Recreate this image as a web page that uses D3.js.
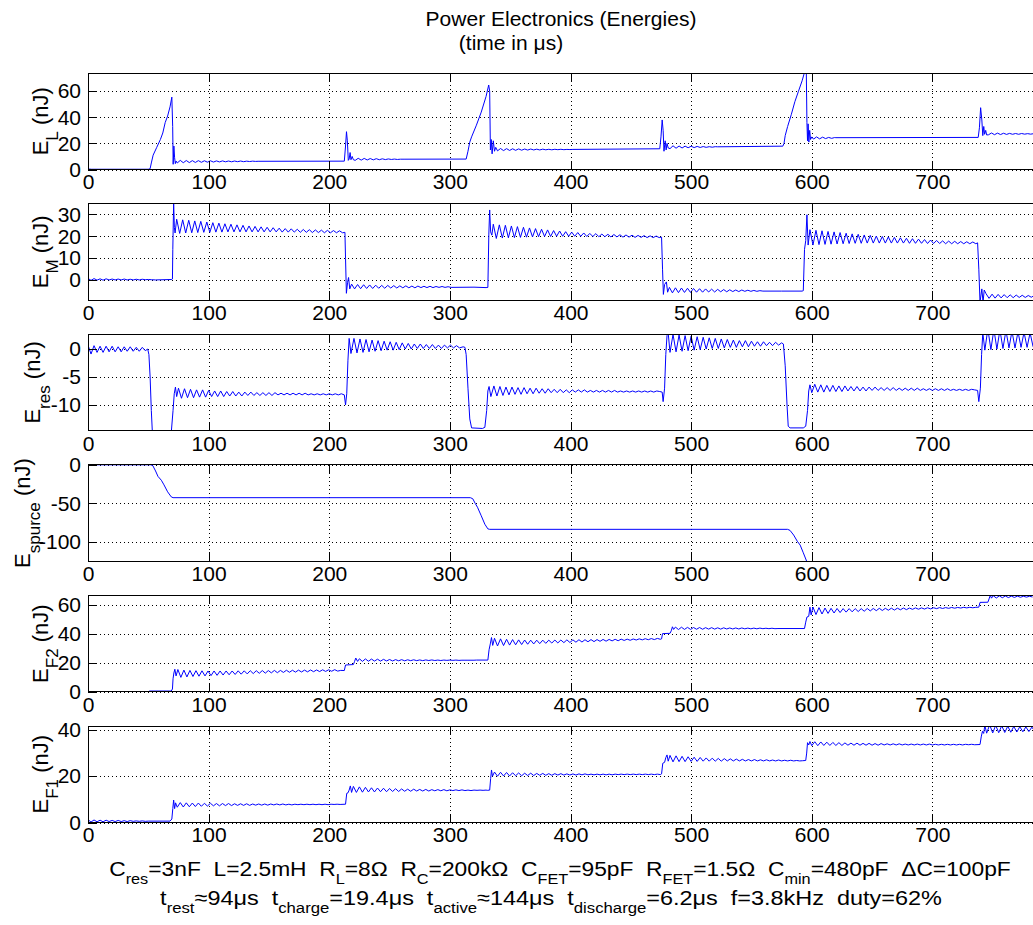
<!DOCTYPE html>
<html>
<head>
<meta charset="utf-8">
<script src="https://cdn.jsdelivr.net/npm/d3@7"></script>
<style>
  body { margin: 0; background: #fff; }
  svg { display: block; font-family: "Liberation Sans", Arial, sans-serif; }
  .grid line { stroke: #000; stroke-width: 1; stroke-dasharray: 1,3; shape-rendering: crispEdges; }
  .tick line { stroke: #000; shape-rendering: crispEdges; }
  .tick text { font-size: 21px; fill: #000; }
  .box { fill: none; stroke: #000; shape-rendering: crispEdges; }
  .trace { fill: none; stroke: #0000ff; stroke-width: 1; }
</style>
</head>
<body>
<svg id="chart" width="1033" height="925"></svg>
<script>
// sample spacing of the ripple segments (µs)
var rippleStep = 2.5;
function ripple(t0, vals) {
  return vals.map((v, i) => [t0 + i * rippleStep, v]);
}

var xTicks = [0, 100, 200, 300, 400, 500, 600, 700];
var panelNames = ['L', 'M', 'res', 'spurce', 'F2', 'F1'];
var yDomains = [[0, 74], [-9.1, 34.9], [-14.6, 2.65], [-125, 0], [0, 66.4], [0, 41.7]];
var yTicks = [[0, 20, 40, 60], [0, 10, 20, 30], [-10, -5, 0], [-100, -50, 0], [0, 20, 40, 60], [0, 20, 40]];

// E_L (nJ) vs time (µs)
var energyL = [
  [0, 0.4], [3, 0.2], [50, 0.2], [51.5, 0.6], [52.5, 5], [54, 11], [57, 17], [60, 23], [62, 28],
  [64, 36], [66, 41], [68, 48], [69.5, 55.5], [70.2, 33], [70.6, 4], [71.2, 18], [71.8, 9],
  [72.4, 4.5], [73, 6.5],
  ...ripple(74, [5.0, 7.0, 5.2, 6.9, 5.3, 6.8, 5.4, 6.8, 5.5, 6.7, 5.6, 6.7, 5.7, 6.6, 5.8, 6.6, 5.9, 6.5, 5.9, 6.5, 6.0, 6.5, 6.0, 6.4, 6.1, 6.4, 6.2]),
  [141, 6.3], [212.5, 6.4], [213.5, 18], [214.3, 29], [215, 22], [215.8, 7], [216.5, 8],
  [217.3, 13], [218, 7.5], [219, 10], [220, 7.5],
  ...ripple(221.5, [7.0, 8.6, 7.2, 8.5, 7.3, 8.4, 7.4, 8.3, 7.5, 8.2, 7.6, 8.1, 7.7, 8.0, 7.7, 7.9]),
  [262, 7.9], [313.5, 8.0], [315, 14], [316.5, 21], [318, 25], [322, 34], [326, 44], [330, 56],
  [332.2, 64.8], [333, 60], [333.6, 15], [334.3, 23], [335, 12], [336, 22], [337, 14], [338, 17],
  ...ripple(339.5, [14.3, 16.1, 14.5, 16.0, 14.6, 15.9, 14.7, 15.8, 14.8, 15.7, 14.9, 15.7, 15.0, 15.6, 15.0, 15.6, 15.1, 15.5, 15.1, 15.5, 15.2, 15.5, 15.2, 15.4, 15.3]),
  [402, 15.4], [474, 15.9], [475, 25], [476, 38], [476.8, 30], [477.5, 14], [478.5, 22],
  [479.3, 15], [480, 20], [481, 16.5],
  ...ripple(482.5, [16.0, 18.2, 16.3, 18.0, 16.5, 17.9, 16.7, 17.8, 16.8, 17.7, 16.9, 17.6, 17.0, 17.5, 17.1, 17.5]),
  [522, 17.4], [576, 17.9], [577, 20], [578, 26], [580, 33], [583, 42], [586, 52], [589, 60],
  [592, 68], [594, 74.5], [595, 76], [595.5, 74], [596, 36], [596.5, 22], [597, 35], [597.6, 21],
  [598.3, 30], [599, 23], [600, 25],
  ...ripple(601.5, [23.3, 25.0, 23.5, 24.8, 23.7, 24.6, 23.9, 24.5]),
  [620, 24.4], [738, 24.6], [739, 32], [740, 47.4], [741, 38], [741.8, 26], [742.6, 33],
  [743.3, 27], [744.2, 30], [745, 26.5],
  ...ripple(746.5, [26.6, 28.0, 26.7, 27.9, 26.8, 27.8, 26.9, 27.7, 27.0, 27.6, 27.0, 27.6, 27.1, 27.5, 27.1, 27.5])
];

// E_M (nJ)
var energyM = [
  ...ripple(0, [0.8, -0.1, 0.7, 0.0, 0.6, 0.0, 0.6, 0.1, 0.5, 0.1, 0.5, 0.1, 0.5, 0.1, 0.4, 0.1, 0.4, 0.1, 0.4, 0.2, 0.3, 0.2]),
  [56, 0.1], [69.5, 0.3], [70, 0.5], [70.3, 14], [71, 35.5], [71.6, 24], [72.2, 21.5],
  ...ripple(73.5, [27.8, 21.3, 27.5, 21.5, 27.3, 21.6, 27.0, 21.7, 26.8, 21.8, 26.5, 21.8, 26.2, 21.9,
    26.0, 21.9, 25.7, 22.0, 25.5, 22.0, 25.2, 22.0, 25.0, 22.0, 24.7, 22.0, 24.5, 22.0, 24.3, 22.0,
    24.1, 22.0, 23.9, 22.0, 23.7, 21.9, 23.5, 21.9, 23.4, 21.9, 23.2, 21.8, 23.1, 21.8, 23.0, 21.7,
    22.9, 21.7, 22.8, 21.6, 22.7, 21.6, 22.6, 21.6, 22.5, 21.6]),
  [213, 21.8], [213.5, 10], [214.2, -6], [215.2, -1], [216, 1.2], [217, -4],
  ...ripple(218.5, [-1.8, -4.0, -2.0, -3.9, -2.1, -3.8, -2.2, -3.8, -2.3, -3.7, -2.4, -3.7, -2.4, -3.6,
    -2.5, -3.6, -2.6, -3.5, -2.6, -3.5, -2.7, -3.5, -2.7, -3.4, -2.8, -3.4, -2.8, -3.4, -2.9, -3.3,
    -2.9, -3.3, -3.0, -3.3]),
  [320, -3.2], [330, -3.4], [331.5, -3.3], [332.3, 21], [333, 32], [333.8, 22], [334.8, 20.5],
  ...ripple(336, [25.5, 19.0, 25.2, 19.2, 25.0, 19.3, 24.7, 19.4, 24.4, 19.5, 24.1, 19.6, 23.8, 19.7,
    23.5, 19.8, 23.2, 19.9, 22.9, 19.9, 22.6, 20.0, 22.4, 20.0, 22.1, 20.0, 21.9, 20.0, 21.7, 20.0,
    21.5, 19.9, 21.3, 19.9, 21.2, 19.8, 21.0, 19.8, 20.9, 19.7, 20.8, 19.7, 20.7, 19.6, 20.6, 19.6,
    20.5, 19.5, 20.4, 19.5, 20.3, 19.4, 20.2, 19.4, 20.1, 19.4]),
  [475.5, 19.6], [476.3, 5], [477, -6.5], [478, -2], [479.5, -0.8], [480.5, -5.5],
  ...ripple(482, [-3.3, -5.8, -3.5, -5.7, -3.6, -5.6, -3.7, -5.6, -3.8, -5.5, -3.9, -5.5, -4.0, -5.4,
    -4.1, -5.4, -4.2, -5.3, -4.3, -5.3, -4.4, -5.2, -4.5, -5.2, -4.5, -5.1, -4.6, -5.1, -4.7, -5.1,
    -4.8, -5.0]),
  [575, -5.0], [592, -5.0], [593, -4.8], [594, 14], [595, 18], [596, 29.8], [597, 16],
  ...ripple(598.5, [23.0, 16.0, 22.7, 16.2, 22.5, 16.3, 22.2, 16.4, 22.0, 16.5, 21.7, 16.6, 21.4, 16.7,
    21.1, 16.8, 20.9, 16.8, 20.6, 16.9, 20.4, 16.9, 20.1, 16.9, 19.9, 16.9, 19.7, 16.9, 19.5, 16.9,
    19.3, 16.9, 19.1, 16.8, 18.9, 16.8, 18.7, 16.8, 18.5, 16.7, 18.3, 16.7, 18.1, 16.7, 17.9, 16.6,
    17.8, 16.6, 17.7, 16.6, 17.6, 16.6, 17.5, 16.6, 17.4, 16.6]),
  [737.5, 17.0], [738.5, 5], [739.5, -10], [741, -4], [742, -10], [743, -4.5],
  ...ripple(744.5, [-6.2, -8.3, -6.4, -8.2, -6.5, -8.1, -6.6, -8.0, -6.7, -8.0, -6.8, -7.9, -6.9, -7.9,
    -7.0, -7.8, -7.0])
];

// E_res (nJ)
var energyRes = [
  ...ripple(0, [0.7, -0.9, 0.6, -0.6, 0.5, -0.6, 0.5, -0.5, 0.5, -0.5, 0.4, -0.5, 0.4, -0.4, 0.4, -0.4,
    0.3, -0.4, 0.3, -0.3]),
  [49.5, 0.0], [50.5, -1], [51.5, -5], [52.5, -11], [53.5, -15.5], [56, -18], [66, -18], [69, -15],
  [70.5, -11], [71.5, -8], [72.5, -6.8], [73.5, -8.5],
  ...ripple(75, [-7.0, -8.8, -7.1, -8.7, -7.2, -8.7, -7.3, -8.6, -7.3, -8.6, -7.4, -8.5, -7.5, -8.5,
    -7.5, -8.5, -7.6, -8.4, -7.6, -8.4, -7.7, -8.4, -7.7, -8.3, -7.7, -8.3, -7.8, -8.3, -7.8, -8.3,
    -7.8, -8.3, -7.8, -8.2, -7.9, -8.2, -7.9, -8.2, -7.9, -8.2, -7.9, -8.2, -7.9, -8.2, -8.0, -8.2,
    -8.0, -8.2, -8.0, -8.2, -8.0, -8.2, -8.0, -8.2]),
  [210, -8.0], [212.5, -8.2], [213.5, -10], [214.5, -8], [215.5, -2], [216.5, 1.9],
  ...ripple(218, [-0.8, 1.9, -0.7, 1.8, -0.6, 1.7, -0.5, 1.6, -0.4, 1.5, -0.3, 1.4, -0.2, 1.3, -0.2, 1.2,
    -0.1, 1.1, 0.0, 1.0, 0.0, 0.9, 0.1, 0.9, 0.1, 0.8, 0.1, 0.8, 0.1, 0.7, 0.1, 0.7, 0.2, 0.7, 0.2, 0.6, 0.2]),
  [311, 0.4], [312.5, 0.3], [313.5, -1], [315, -7], [316.5, -12.5], [318, -14.1], [327, -14.2],
  [329, -14.0], [330.5, -11], [331.5, -7.5], [332.5, -6.7],
  ...ripple(334, [-8.5, -6.6, -8.4, -6.7, -8.3, -6.8, -8.2, -6.8, -8.1, -6.9, -8.1, -6.9, -8.0, -7.0,
    -8.0, -7.0, -7.9, -7.1, -7.9, -7.1, -7.8, -7.2, -7.8, -7.2, -7.8, -7.3, -7.8, -7.3, -7.7, -7.3,
    -7.7, -7.3, -7.7, -7.4, -7.7, -7.4, -7.7, -7.4, -7.7, -7.4, -7.7, -7.4, -7.7, -7.5, -7.7, -7.5,
    -7.7, -7.5, -7.7, -7.5, -7.7, -7.5, -7.7, -7.5, -7.7, -7.5]),
  [474, -7.6], [476, -7.7], [476.8, -9.4], [478, -7], [479, -1], [480, 2.4], [481, 2.8],
  ...ripple(482.5, [-0.6, 2.6, -0.5, 2.5, -0.4, 2.4, -0.3, 2.3, -0.2, 2.2, -0.1, 2.1, 0.0, 2.0, 0.1, 1.9,
    0.1, 1.8, 0.2, 1.7, 0.3, 1.6, 0.3, 1.5, 0.4, 1.5, 0.4, 1.4, 0.5, 1.3, 0.5, 1.3, 0.6, 1.2, 0.6, 1.2,
    0.7, 1.1]),
  [576.5, 0.9], [578, -3], [579.5, -10], [580.5, -13.8], [582, -14.1], [593, -14.1], [595, -13.8],
  [596.5, -11], [597.5, -7.5], [598.5, -6.4],
  ...ripple(600, [-7.8, -6.3, -7.7, -6.4, -7.7, -6.5, -7.6, -6.5, -7.6, -6.6, -7.6, -6.6, -7.5, -6.7,
    -7.5, -6.7, -7.5, -6.8, -7.5, -6.8, -7.4, -6.8, -7.4, -6.9, -7.4, -6.9, -7.4, -6.9, -7.4, -7.0,
    -7.4, -7.0, -7.4, -7.0, -7.4, -7.0, -7.4, -7.1, -7.4, -7.1, -7.4, -7.1, -7.4, -7.1, -7.4, -7.1,
    -7.4, -7.2, -7.4, -7.2, -7.4, -7.2, -7.4, -7.2]),
  [735, -7.3], [737.5, -7.4], [738.5, -9.4], [739.8, -7], [740.8, -1], [741.8, 2.9],
  ...ripple(743.5, [-0.2, 3.6, -0.1, 3.5, 0.0, 3.4, 0.1, 3.3, 0.2, 3.2, 0.2, 3.1, 0.3, 3.0, 0.3, 2.9, 0.4])
];

// E_source (nJ)
var energySource = [
  [0, 0], [52, 0], [53.7, -1], [56, -8], [58, -15], [60.8, -20], [63, -26], [66, -35], [69, -41.5],
  [70.5, -42.6], [317, -42.6], [319, -44], [321, -50], [322.9, -55], [326, -66], [329, -77],
  [331.5, -83], [333, -83.6], [580, -83.6], [582, -85], [585, -91], [588, -99], [590.4, -104],
  [593, -114], [595.8, -125], [598, -133], [600, -140]
];

// E_F2 (nJ)
var energyF2 = [
  [0, 0.2], [50, 0.2], [51, 0.6], [69, 0.6], [70, 2], [70.5, 9], [71.2, 13], [72, 15.6], [73, 11],
  ...ripple(74.5, [15.4, 10.0, 15.0, 10.3, 14.8, 10.6, 14.6, 10.8, 14.5, 11.0, 14.4, 11.2, 14.4, 11.4,
    14.4, 11.6, 14.4, 11.8, 14.4, 12.0, 14.5, 12.2, 14.5, 12.4, 14.6, 12.6, 14.6, 12.8, 14.7, 12.9,
    14.7, 13.1, 14.8, 13.2, 14.8, 13.4, 14.9, 13.5, 14.9, 13.6, 15.0, 13.7, 15.0, 13.8, 15.1, 13.9,
    15.1, 14.0, 15.2, 14.1, 15.2, 14.2, 15.3, 14.3]),
  [209.5, 14.8], [212.5, 14.7], [213.5, 18.5], [220, 18.8], [221, 21], [222, 23.3], [223.5, 21],
  ...ripple(225, [22.8, 21.0, 22.7, 21.1, 22.6, 21.2, 22.5, 21.2, 22.4, 21.3, 22.3, 21.3, 22.2, 21.4,
    22.2, 21.4, 22.1, 21.5, 22.1, 21.5, 22.0, 21.5, 22.0, 21.6, 22.0, 21.6, 21.9, 21.6, 21.9, 21.7,
    21.9, 21.7, 21.9, 21.7, 21.8, 21.8, 21.8, 21.8, 21.8]),
  [322, 21.9], [331.5, 21.9], [332.5, 29], [333.5, 33], [334.5, 37.4], [335.5, 32],
  ...ripple(337, [36.9, 31.6, 36.5, 31.9, 36.2, 32.2, 36.0, 32.4, 35.8, 32.6, 35.7, 32.8, 35.6, 33.0,
    35.6, 33.2, 35.6, 33.4, 35.6, 33.6, 35.7, 33.7, 35.7, 33.9, 35.8, 34.0, 35.8, 34.2, 35.9, 34.3,
    35.9, 34.5, 36.0, 34.6, 36.0, 34.8, 36.1, 34.9, 36.1, 35.1, 36.2, 35.2, 36.3, 35.4, 36.3, 35.5,
    36.4, 35.7, 36.5, 35.8, 36.6, 35.9, 36.7, 36.0, 36.8, 36.2]),
  [475.5, 36.5], [476.3, 40.1], [482.5, 40.3], [483.5, 42], [484.5, 44.8], [485.5, 43],
  ...ripple(487, [44.6, 42.9, 44.5, 43.0, 44.4, 43.0, 44.3, 43.1, 44.3, 43.1, 44.2, 43.2, 44.2, 43.2,
    44.1, 43.2, 44.1, 43.3, 44.0, 43.3, 44.0, 43.3, 44.0, 43.4, 43.9, 43.4, 43.9, 43.4, 43.9, 43.5,
    43.8, 43.5, 43.8, 43.5]),
  [572, 43.6], [594, 43.6], [595, 48], [596, 51.5], [597.5, 52], [598.5, 58.3], [599.5, 53],
  ...ripple(601, [58.4, 53.2, 58.0, 53.6, 57.7, 54.0, 57.5, 54.3, 57.4, 54.6, 57.3, 54.9, 57.3, 55.1,
    57.3, 55.3, 57.3, 55.5, 57.4, 55.7, 57.4, 55.9, 57.5, 56.0, 57.5, 56.2, 57.6, 56.3, 57.6, 56.5,
    57.7, 56.6, 57.7, 56.8, 57.8, 56.9, 57.8, 57.0, 57.9, 57.1, 57.9, 57.3, 58.0, 57.4, 58.0, 57.5,
    58.1, 57.6, 58.1, 57.7, 58.2, 57.8, 58.2, 57.9]),
  [736, 58.2], [738.5, 58.3], [739.5, 61.6], [746, 61.7], [747, 64], [748, 66.5], [749, 64.5],
  ...ripple(750.5, [66.2, 64.6, 66.1, 64.8, 66.0, 64.9, 65.9, 65.0, 65.9, 65.1, 65.8, 65.2, 65.8, 65.3])
];

// E_F1 (nJ)
var energyF1 = [
  ...ripple(0, [1.2, 0.2, 1.1, 0.3, 1.0, 0.3, 1.0, 0.4, 0.9, 0.4, 0.9, 0.4, 0.8, 0.4, 0.8, 0.5, 0.7, 0.5,
    0.7, 0.5]),
  [50, 0.6], [68, 0.6], [69.5, 1.5], [70.3, 6], [71, 9.7], [71.8, 6], [72.6, 8.5],
  ...ripple(74, [6.6, 8.6, 6.7, 8.5, 6.8, 8.4, 6.9, 8.4, 7.0, 8.3, 7.1, 8.3, 7.2, 8.2, 7.2, 8.2, 7.3, 8.2,
    7.3, 8.1, 7.4, 8.1, 7.4, 8.1, 7.4, 8.0, 7.5, 8.0, 7.5, 8.0, 7.5, 8.0, 7.6, 8.0, 7.6, 8.0, 7.6, 7.9,
    7.6, 7.9, 7.7, 7.9, 7.7, 7.9, 7.7, 7.9, 7.7, 7.9, 7.7, 7.9, 7.7, 7.9, 7.8, 7.9]),
  [209, 7.8], [213.5, 7.9], [214.5, 12.6], [215.5, 12.8], [216.5, 14], [217.5, 15.8], [218.5, 13],
  ...ripple(220, [15.6, 13.0, 15.4, 13.1, 15.2, 13.2, 15.0, 13.2, 14.9, 13.3, 14.8, 13.3, 14.7, 13.4,
    14.6, 13.4, 14.5, 13.5, 14.4, 13.5, 14.4, 13.6, 14.3, 13.6, 14.3, 13.6, 14.2, 13.7, 14.2, 13.7,
    14.2, 13.7, 14.1, 13.8, 14.1, 13.8, 14.1, 13.8, 14.0, 13.8, 14.0, 13.9, 14.0, 13.9, 14.0]),
  [331, 13.9], [333, 14], [333.8, 19], [334.5, 22.7], [335.3, 20],
  ...ripple(337, [21.8, 20.0, 21.7, 20.1, 21.6, 20.1, 21.5, 20.2, 21.4, 20.2, 21.3, 20.3, 21.3, 20.3,
    21.2, 20.4, 21.2, 20.4, 21.1, 20.4, 21.1, 20.5, 21.1, 20.5, 21.0, 20.5, 21.0, 20.5, 21.0, 20.6,
    21.0, 20.6, 20.9, 20.6, 20.9, 20.6, 20.9, 20.6, 20.9, 20.6, 20.9, 20.7, 20.9, 20.7, 20.9, 20.7,
    20.9, 20.7, 20.9, 20.7, 20.9, 20.7, 20.9, 20.7, 20.9, 20.7]),
  [475.5, 21], [476.5, 25.6], [478, 26], [479, 28], [480, 29.2], [481, 26.5],
  ...ripple(482.5, [29.0, 26.2, 28.8, 26.3, 28.6, 26.3, 28.4, 26.4, 28.2, 26.4, 28.1, 26.5, 27.9, 26.5,
    27.8, 26.5, 27.7, 26.5, 27.6, 26.6, 27.5, 26.6, 27.4, 26.6, 27.3, 26.6, 27.2, 26.6, 27.2, 26.6,
    27.1, 26.6, 27.1, 26.6, 27.0, 26.6, 27.0, 26.6, 26.9, 26.6, 26.9, 26.6, 26.8, 26.6]),
  [592.5, 26.7], [595, 26.8], [595.8, 30], [596.5, 34.5], [597.5, 33.5], [598.5, 35],
  ...ripple(600, [33.2, 34.9, 33.2, 34.8, 33.3, 34.7, 33.3, 34.6, 33.3, 34.5, 33.3, 34.4, 33.4, 34.3,
    33.4, 34.3, 33.4, 34.2, 33.4, 34.2, 33.4, 34.1, 33.4, 34.1, 33.5, 34.0, 33.5, 34.0, 33.5, 34.0,
    33.5, 33.9, 33.5, 33.9, 33.5, 33.9, 33.5, 33.9, 33.5, 33.9, 33.5, 33.8, 33.5, 33.8, 33.5, 33.8,
    33.5, 33.8, 33.5, 33.8, 33.5, 33.8, 33.6, 33.8]),
  [735, 33.6], [739.5, 33.7], [740.5, 37], [741.5, 39.4], [742.5, 38.5], [743.5, 42],
  ...ripple(745, [38.6, 42.2, 38.7, 42.0, 38.8, 41.8, 38.9, 41.6, 39.0, 41.5, 39.1, 41.4, 39.2, 41.3,
    39.3, 41.2, 39.3])
];

var series = [energyL, energyM, energyRes, energySource, energyF2, energyF1];

// title and parameter lines ('s' marks a subscript)
var titleLines = ['Power Electronics (Energies)', '(time in μs)'];
var paramLine = [['C'], ['res', 's'], ['=3nF  L=2.5mH  R'], ['L', 's'], ['=8Ω  R'], ['C', 's'],
  ['=200kΩ  C'], ['FET', 's'], ['=95pF  R'], ['FET', 's'], ['=1.5Ω  C'], ['min', 's'],
  ['=480pF  ΔC=100pF']];
var timingLine = [['t'], ['rest', 's'], ['≈94μs  t'], ['charge', 's'], ['=19.4μs  t'], ['active', 's'],
  ['≈144μs  t'], ['discharge', 's'], ['=6.2μs  f=3.8kHz  duty=62%']];

///////////////////////////////////////////////////////////////
// draw the panels
///////////////////////////////////////////////////////////////

var svg = d3.select('#chart');
var x = d3.scaleLinear().domain([0, 800]).range([88, 1053]);
var labelX = [48, 48, 40, 30, 48, 48];

function richText(sel, parts, subSize, drop) {
  var low = false;
  parts.forEach(p => {
    var ts = sel.append('tspan').text(p[0]);
    if (p[1] === 's') {
      ts.attr('font-size', subSize);
      if (!low) { ts.attr('dy', drop); low = true; }
    } else if (low) {
      ts.attr('dy', -drop);
      low = false;
    }
  });
}

series.forEach((data, i) => {
  var top = 73 + i * 130.6;
  var bottom = top + 96.5;
  var y = d3.scaleLinear().domain(yDomains[i]).range([bottom, top]);
  var g = svg.append('g');

  g.append('clipPath').attr('id', 'clip' + i)
    .append('rect')
    .attr('x', x(0)).attr('y', top)
    .attr('width', x(800) - x(0)).attr('height', bottom - top);

  // dotted grid
  var grid = g.append('g').attr('class', 'grid');
  grid.selectAll('.gx')
    .data(xTicks.slice(1))
    .enter().append('line')
    .attr('x1', d => Math.round(x(d)) + 0.5).attr('x2', d => Math.round(x(d)) + 0.5)
    .attr('y1', top).attr('y2', bottom);
  grid.selectAll('.gy')
    .data(yTicks[i])
    .enter().append('line')
    .attr('x1', x(0)).attr('x2', x(800))
    .attr('y1', d => Math.round(y(d)) + 0.5).attr('y2', d => Math.round(y(d)) + 0.5);

  // trace
  g.append('path')
    .datum(data)
    .attr('class', 'trace')
    .attr('clip-path', 'url(#clip' + i + ')')
    .attr('d', d3.line().x(d => x(d[0])).y(d => y(d[1])));

  // axes with inward ticks
  g.append('g')
    .attr('transform', 'translate(0,' + bottom + ')')
    .call(d3.axisBottom(x).tickValues(xTicks).tickSize(-9).tickSizeOuter(0).tickPadding(5)
      .tickFormat(d => String(d)))
    .call(a => a.select('.domain').remove());
  g.append('g')
    .attr('transform', 'translate(0,' + top + ')')
    .call(d3.axisTop(x).tickValues(xTicks).tickSize(-9).tickSizeOuter(0).tickFormat(''))
    .call(a => a.select('.domain').remove());
  g.append('g')
    .attr('transform', 'translate(' + x(0) + ',0)')
    .call(d3.axisLeft(y).tickValues(yTicks[i]).tickSize(-9).tickSizeOuter(0).tickPadding(7)
      .tickFormat(d => String(d)))
    .call(a => a.select('.domain').remove());
  g.selectAll('.tick text').attr('font-family', null);

  g.append('rect')
    .attr('class', 'box')
    .attr('x', x(0) + 0.5).attr('y', top)
    .attr('width', x(800) - x(0)).attr('height', bottom - top);

  // y label
  var lab = g.append('text')
    .attr('transform', 'translate(' + labelX[i] + ',' + (top + bottom) / 2 + ') rotate(-90)')
    .attr('text-anchor', 'middle')
    .attr('font-size', 22)
    .style('white-space', 'pre');
  richText(lab, [['E'], [panelNames[i], 's'], [' (nJ)']], 17, 10);
});

// title
svg.append('text')
  .attr('x', 561).attr('y', 26)
  .attr('text-anchor', 'middle')
  .attr('font-size', 21)
  .text(titleLines[0]);
svg.append('text')
  .attr('x', 511).attr('y', 50)
  .attr('text-anchor', 'middle')
  .attr('font-size', 21)
  .text(titleLines[1]);

// parameter lines under the last panel
function fitWidth(sel, cx, width) {
  var w = sel.node().getBBox().width;
  sel.attr('transform', 'translate(' + cx + ',0) scale(' + (width / w) + ',1) translate(' + (-cx) + ',0)');
}
var p1 = svg.append('text')
  .attr('x', 560).attr('y', 876)
  .attr('text-anchor', 'middle')
  .attr('font-size', 21)
  .style('white-space', 'pre');
richText(p1, paramLine, 15, 8);
fitWidth(p1, 560, 902);

var p2 = svg.append('text')
  .attr('x', 551).attr('y', 905)
  .attr('text-anchor', 'middle')
  .attr('font-size', 21)
  .style('white-space', 'pre');
richText(p2, timingLine, 15, 8);
fitWidth(p2, 551, 782);
</script>
</body>
</html>
